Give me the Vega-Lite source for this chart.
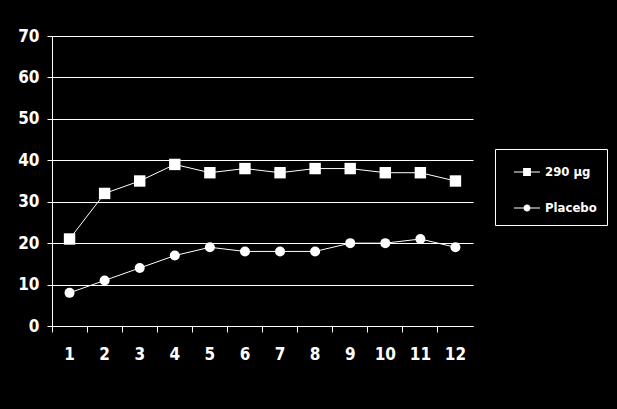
{
  "$schema": "https://vega.github.io/schema/vega-lite/v6.json",
  "width": 421,
  "height": 290,
  "autosize": {"type": "none"},
  "padding": {"left": 52, "top": 36, "right": 144, "bottom": 83},
  "background": "black",
  "config": {
    "view": {"stroke": null},
    "font": "DejaVu Sans Condensed, Liberation Sans",
    "axis": {
      "domainColor": "white",
      "tickColor": "white",
      "gridColor": "white",
      "gridOpacity": 1,
      "labelColor": "white",
      "labelFont": "DejaVu Sans Condensed, Liberation Sans",
      "labelFontWeight": "bold",
      "labelFontSize": 17,
      "titleColor": "white"
    }
  },
  "data": {
    "values": [
      {"week": "1", "series": "290 µg", "value": 21},
      {"week": "2", "series": "290 µg", "value": 32},
      {"week": "3", "series": "290 µg", "value": 35},
      {"week": "4", "series": "290 µg", "value": 39},
      {"week": "5", "series": "290 µg", "value": 37},
      {"week": "6", "series": "290 µg", "value": 38},
      {"week": "7", "series": "290 µg", "value": 37},
      {"week": "8", "series": "290 µg", "value": 38},
      {"week": "9", "series": "290 µg", "value": 38},
      {"week": "10", "series": "290 µg", "value": 37},
      {"week": "11", "series": "290 µg", "value": 37},
      {"week": "12", "series": "290 µg", "value": 35},
      {"week": "1", "series": "Placebo", "value": 8},
      {"week": "2", "series": "Placebo", "value": 11},
      {"week": "3", "series": "Placebo", "value": 14},
      {"week": "4", "series": "Placebo", "value": 17},
      {"week": "5", "series": "Placebo", "value": 19},
      {"week": "6", "series": "Placebo", "value": 18},
      {"week": "7", "series": "Placebo", "value": 18},
      {"week": "8", "series": "Placebo", "value": 18},
      {"week": "9", "series": "Placebo", "value": 20},
      {"week": "10", "series": "Placebo", "value": 20},
      {"week": "11", "series": "Placebo", "value": 21},
      {"week": "12", "series": "Placebo", "value": 19}
    ]
  },
  "encoding": {
    "x": {
      "field": "week",
      "type": "ordinal",
      "sort": null,
      "scale": {"type": "band", "paddingInner": 0, "paddingOuter": 0},
      "axis": {
        "title": null,
        "labelAngle": 0,
        "bandPosition": 0,
        "tickSize": 6,
        "labelPadding": 14,
        "grid": false
      }
    },
    "y": {
      "field": "value",
      "type": "quantitative",
      "scale": {"domain": [0, 70], "nice": false},
      "axis": {
        "title": null,
        "values": [0, 10, 20, 30, 40, 50, 60, 70],
        "tickSize": 5,
        "labelPadding": 8,
        "grid": true
      }
    }
  },
  "layer": [
    {
      "mark": {"type": "line", "color": "white", "strokeWidth": 1},
      "encoding": {"detail": {"field": "series"}}
    },
    {
      "transform": [{"filter": "datum.series === '290 µg'"}],
      "mark": {"type": "point", "shape": "square", "filled": true, "color": "white", "opacity": 1, "size": 130}
    },
    {
      "transform": [{"filter": "datum.series === 'Placebo'"}],
      "mark": {"type": "point", "shape": "circle", "filled": true, "color": "white", "opacity": 1, "size": 100}
    },
    {
      "mark": {"type": "point", "filled": true, "color": "white", "opacity": 0},
      "encoding": {
        "shape": {
          "field": "series",
          "type": "nominal",
          "scale": {
            "domain": ["290 µg", "Placebo"],
            "range": [
              "M-1,-0.04H1V0.04H-1ZM-0.3,-0.3H0.3V0.3H-0.3Z",
              "M-1,-0.04H1V0.04H-1ZM-0.27,0A0.27,0.27,0,1,1,0.27,0A0.27,0.27,0,1,1,-0.27,0Z"
            ]
          },
          "legend": {
            "title": null,
            "orient": "none",
            "legendX": 443,
            "legendY": 113,
            "strokeColor": "white",
            "fillColor": "black",
            "padding": 10,
            "symbolOffset": 9,
            "rowPadding": 16,
            "symbolSize": 676,
            "symbolOpacity": 1,
            "symbolStrokeColor": "white",
            "symbolFillColor": "white",
            "symbolStrokeWidth": 0,
            "labelColor": "white",
            "labelFont": "DejaVu Sans Condensed, Liberation Sans",
            "labelFontWeight": "bold",
            "labelFontSize": 13,
            "labelOffset": 5
          }
        }
      }
    }
  ]
}
